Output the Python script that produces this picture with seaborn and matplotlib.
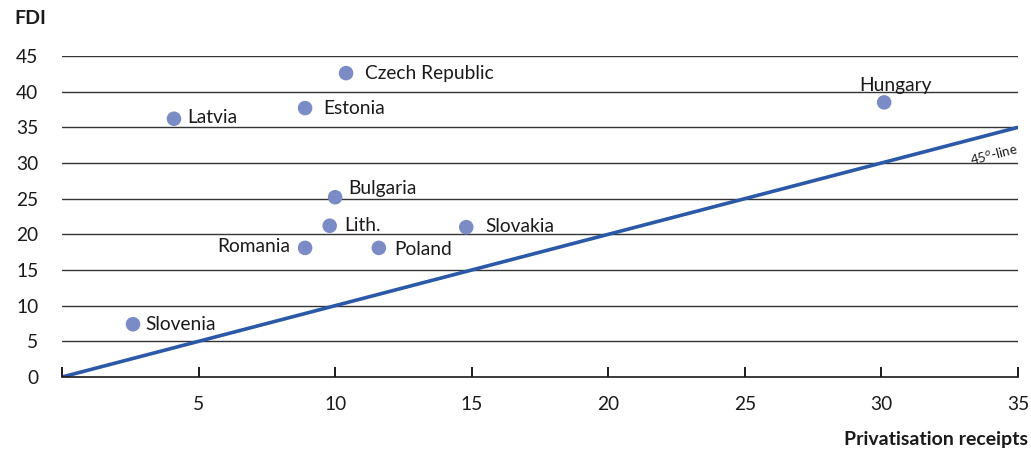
import matplotlib
matplotlib.use("Agg")
import matplotlib.pyplot as plt
import seaborn as sns
import pandas as pd

# Privatisation receipts vs FDI
countries = ["Czech Republic", "Estonia", "Latvia", "Hungary", "Bulgaria",
             "Lith.", "Slovakia", "Romania", "Poland", "Slovenia"]
privatisation = [10.4, 8.9, 4.1, 30.1, 10.0, 9.8, 14.8, 8.9, 11.6, 2.6]
fdi = [42.6, 37.7, 36.2, 38.5, 25.2, 21.2, 21.0, 18.1, 18.1, 7.4]

line_x = [0, 35]
line_y = [0, 35]

x_ticks = [0, 5, 10, 15, 20, 25, 30, 35]
x_tick_labels = ["", "5", "10", "15", "20", "25", "30", "35"]
y_ticks = [0, 5, 10, 15, 20, 25, 30, 35, 40, 45]

# label offsets in pixels relative to each point
label_dx = [19, 18, 13, 11, 13, 15, 19, -15, 15, 12]
label_dy = [0, 0, 1, 17, 9, 0, 1, 1, -2, 0]
label_ha = ["left", "left", "left", "center", "left",
            "left", "left", "right", "left", "left"]

df = pd.DataFrame({"country": countries, "priv": privatisation, "fdi": fdi})
line_df = pd.DataFrame({"x": line_x, "y": line_y})

sns.set_theme(style="white", rc={"xtick.bottom": True, "xtick.direction": "in"})
plt.rcParams["font.family"] = ["Lato", "DejaVu Sans"]

fig = plt.figure(figsize=(10.31, 4.5), dpi=100)
ax = fig.add_axes([62 / 1031, 1 - 377 / 450, (1018 - 62) / 1031, (377 - 56) / 450])

for v in y_ticks[1:]:
    ax.axhline(v, color="#333333", lw=1.0, zorder=1)

sns.lineplot(data=line_df, x="x", y="y", ax=ax, color="#2b59a8", lw=2.6, zorder=3)
sns.scatterplot(data=df, x="priv", y="fdi", ax=ax, color="#7b8bc6", s=110,
                edgecolor="none", zorder=4)

for c, x, y, dx, dy, ha in zip(countries, privatisation, fdi, label_dx, label_dy, label_ha):
    ax.annotate(c, (x, y), xytext=(dx, dy), textcoords="offset pixels",
                ha=ha, va="center", fontsize=13.8, color="#1a1a1a")

ax.text(34.1, 31.2, "45$^o$-line", rotation=14.6, ha="center", va="center",
        fontsize=9.5, color="#1a1a1a")

ax.set_xlim(0, 35)
ax.set_ylim(0, 45)
ax.set_yticks(y_ticks)
ax.set_xticks(x_ticks)
ax.set_xticklabels(x_tick_labels)

# inward tick marks along the x axis
ax.plot(x_ticks, [0] * len(x_ticks), ls="none", marker=2, markersize=7.5,
        markeredgewidth=1.2, color="#1a1a1a", clip_on=False, zorder=5)

for s in ["top", "right", "left"]:
    ax.spines[s].set_visible(False)
ax.spines["bottom"].set_color("#1a1a1a")
ax.spines["bottom"].set_linewidth(1.2)
ax.spines["bottom"].set_zorder(5)

ax.tick_params(axis="x", bottom=True, direction="in", length=7.5, width=1.2,
               color="#1a1a1a", pad=14, labelsize=13.8, labelcolor="#1a1a1a")
ax.tick_params(axis="y", left=False, length=0, pad=17, labelsize=13.8,
               labelcolor="#1a1a1a")

ax.set_xlabel("")
ax.set_ylabel("")
fig.text(14 / 1031, 1 - 19 / 450, "FDI", fontsize=14, fontweight="bold",
         ha="left", va="center", color="#1a1a1a")
fig.text(1028 / 1031, 1 - 440 / 450, "Privatisation receipts", fontsize=14,
         fontweight="bold", ha="right", va="center", color="#1a1a1a")

fig.savefig("out.png", dpi=100)
